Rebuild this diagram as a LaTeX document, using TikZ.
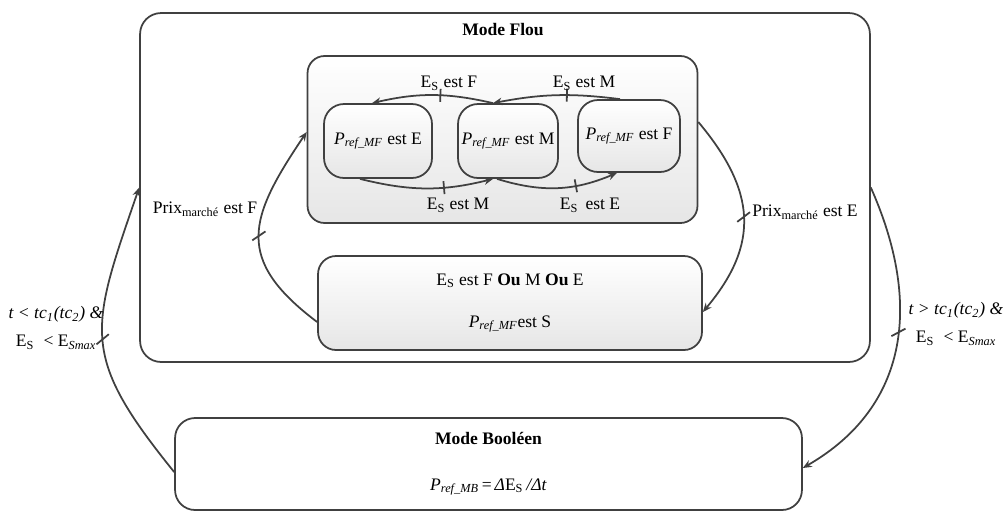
\documentclass[tikz,border=0pt]{standalone}
\usepackage{fontspec}
\setmainfont{Liberation Serif}
\usepackage{xcolor}
\usepackage{tikz}
\usetikzlibrary{arrows.meta,positioning}
\definecolor{flouTrait}{HTML}{404040}
\definecolor{flouFond}{HTML}{E6E6E6}
\newcommand\Es{E\textsubscript{S}}
\newcommand\Pref[1]{\textit{P}\textsubscript{\textit{ref\_#1}}}

\begin{document}
\begin{tikzpicture}[x=0.02cm, y=-0.02cm,
    font=\fontsize{10}{12}\selectfont,
    cadre/.style={draw=flouTrait, line width=1pt, rounded corners=0.4cm,
                  align=center, inner sep=0pt},
    etat/.style={cadre, top color=white, bottom color=flouFond,
                 minimum height=1.48cm},
    lbl/.style={inner sep=1pt, align=center},
    arr/.style={-{Stealth[length=1.8mm, width=1.5mm]}, draw=flouTrait, line width=1pt},
    barre/.style={sloped, draw=flouTrait, line width=1pt, inner sep=0pt,
                  minimum width=0pt, minimum height=0.26cm}]

    \useasboundingbox (0,0) rectangle (1003,512);

    % modes
    \node[cadre, minimum width=14.6cm, minimum height=6.98cm, rounded corners=0.42cm] (flou) at (505,187.5) {};
    \node (tFlou) at (503,30) {\textbf{Mode Flou}};
    \node[cadre, top color=white, bottom color=flouFond, minimum width=7.8cm, minimum height=3.34cm,
          rounded corners=0.34cm] (etats) at (502.5,139.5) {};
    \node[cadre, minimum width=12.54cm, minimum height=1.84cm] (bool) at (488.5,464)
        {\textbf{Mode Booléen}\\[14pt]\textit{P}\textsubscript{\textit{ref\_MB}}\,=\,\textit{Δ}\Es\,\textit{/Δt}};

    % etats du mode flou
    \node[etat, minimum width=2.16cm] (pE) at (378,141) {\Pref{MF} est E};
    \node[etat, minimum width=2.0cm] (pM) at (508,141) {\Pref{MF} est M};
    \node[etat, minimum width=2.04cm, minimum height=1.44cm] (pF) at (629,136) {\Pref{MF} est F};
    \node[cadre, top color=white, bottom color=flouFond, minimum width=7.68cm, minimum height=1.88cm,
          rounded corners=0.36cm] (stable) at (510,303)
        {\Es{} est F \textbf{Ou} M \textbf{Ou} E\\[12pt]\Pref{MF}est S};

    % transitions
    \draw[arr] ([xshift=-0.3cm]pM.north) to[bend right=13] node[barre, pos=0.43]{} ([xshift=-0.12cm]pE.north);
    \draw[arr] ([xshift=-0.18cm]pF.north) to[bend right=9] node[barre, pos=0.41]{} ([xshift=-0.3cm]pM.north);
    \draw[arr] ([xshift=-0.36cm]pE.south) to[bend right=14] node[barre, pos=0.64]{} ([xshift=-0.3cm]pM.south);
    \draw[arr] ([xshift=-0.22cm]pM.south) to[bend right=20] node[barre, pos=0.66]{} ([xshift=-0.24cm]pF.south);

    \draw[arr] ([yshift=-0.38cm]stable.west) to[out=143, in=236, looseness=1.4]
        node[barre, rotate=35, minimum height=0.32cm]{} ([yshift=0.15cm]etats.west);
    \draw[arr] ([yshift=0.35cm]etats.east) to[out=-50, in=50, looseness=1.2]
        node[barre, rotate=35, minimum height=0.32cm]{} ([yshift=-0.18cm]stable.east);
    \draw[arr] ([yshift=-0.16cm]bool.west) to[out=129, in=251, looseness=1.35]
        node[barre, rotate=35, minimum height=0.32cm]{} (flou.west);
    \draw[arr] (flou.east) to[out=-66, in=30, looseness=1.1]
        node[barre, pos=0.45, rotate=35, minimum height=0.32cm]{} ([yshift=-0.08cm]bool.east);

    % conditions
    \node[lbl] (cEF) at (449,83) {\Es{} est F};
    \node[lbl] (cEM) at (584,83) {\Es{} est M};
    \node[lbl] (cEM2) at (458,205) {\Es{} est M};
    \node[lbl] (cEE) at (590,205) {\Es{}\, est E};
    \node[lbl] (cPF) at (205,209) {Prix\textsubscript{marché} est F};
    \node[lbl] (cPE) at (805,212) {Prix\textsubscript{marché} est E};
    \node[lbl] (cGauche) at (56,328)
        {\textit{t < tc\textsubscript{1}(tc\textsubscript{2}) \&}\\[4pt]\Es{}\; < E\textsubscript{\textit{Smax}}};
    \node[lbl] (cDroite) at (956,324)
        {\textit{t > tc\textsubscript{1}(tc\textsubscript{2}) \&}\\[4pt]\Es{}\; < E\textsubscript{\textit{Smax}}};
  \end{tikzpicture}
\end{document}
